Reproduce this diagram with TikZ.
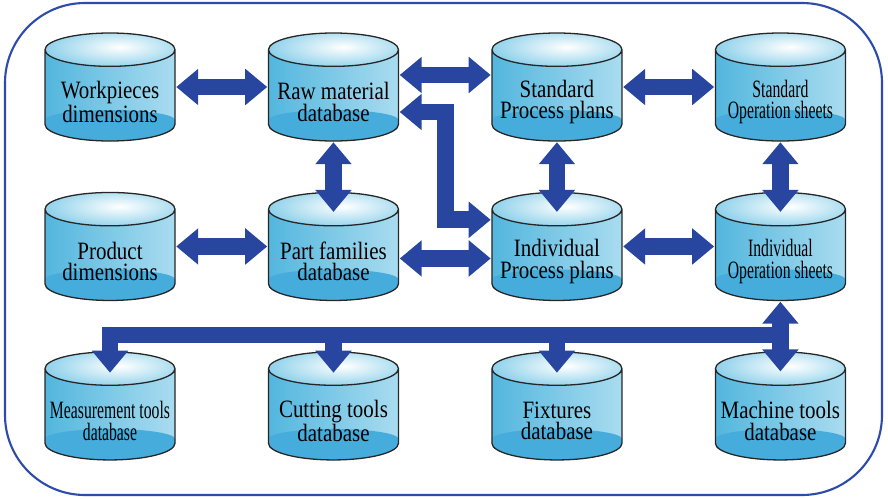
\documentclass[tikz,border=0pt]{standalone}
\usepackage{fontspec}
\setmainfont{Liberation Serif}
\newfontfamily\dbserif[FakeStretch=0.84]{Liberation Serif}
\newfontfamily\dbnarrow[FakeStretch=0.63]{Liberation Serif}
\usetikzlibrary{shapes.geometric, arrows.meta, positioning, calc}

\definecolor{arrowblue}{RGB}{40,70,160}
\definecolor{frameblue}{RGB}{45,75,170}
\definecolor{dbleft}{RGB}{82,182,222}
\definecolor{dbmid}{RGB}{205,236,248}
\definecolor{dbright}{RGB}{170,220,240}
\definecolor{dbtop}{RGB}{140,208,234}
\definecolor{dbpool}{RGB}{70,172,220}
\definecolor{dbpoolmid}{RGB}{168,222,243}

\begin{document}
\begin{tikzpicture}[
  node distance = 1.47cm and 2.73cm,
  dbCyl/.style  = {rectangle, minimum width=3.96cm, minimum height=3.3cm, inner sep=0pt,
                   path picture={
                     %% body
                     \path[left color=dbleft, middle color=dbmid, right color=dbright]
                       ([shift={(0.03,-0.53)}]path picture bounding box.north west)
                       -- ([shift={(0.03,0.53)}]path picture bounding box.south west)
                       arc[start angle=180, end angle=360, x radius=1.95cm, y radius=0.5cm]
                       -- ([shift={(-0.03,-0.53)}]path picture bounding box.north east) -- cycle;
                     %% darker pool at the bottom
                     \path[left color=dbpool, middle color=dbpoolmid, right color=dbpool]
                       ([shift={(0.03,0.66)}]path picture bounding box.south west)
                       arc[start angle=180, end angle=0, x radius=1.95cm, y radius=0.3cm]
                       -- ([shift={(-0.03,0.53)}]path picture bounding box.south east)
                       arc[start angle=0, end angle=-180, x radius=1.95cm, y radius=0.5cm] -- cycle;
                     %% top
                     \begin{scope}
                       \clip ([yshift=-0.53cm]path picture bounding box.north) ellipse [x radius=1.95cm, y radius=0.5cm];
                       \fill[inner color=white, outer color=dbtop]
                         ([shift={(0.3,-0.45)}]path picture bounding box.north) ellipse [x radius=2.3cm, y radius=0.65cm];
                     \end{scope}
                     %% outline
                     \draw[line width=1.1pt, black!85]
                       ([yshift=-0.53cm]path picture bounding box.north) ellipse [x radius=1.95cm, y radius=0.5cm]
                       ([shift={(0.03,-0.53)}]path picture bounding box.north west)
                       -- ([shift={(0.03,0.53)}]path picture bounding box.south west)
                       arc[start angle=180, end angle=360, x radius=1.95cm, y radius=0.5cm]
                       -- ([shift={(-0.03,-0.53)}]path picture bounding box.north east);
                   }},
  dbText/.style = {align=center, font=\dbserif\fontsize{21.3}{18.5}\selectfont, yshift=-0.45cm},
  narrow/.style = {font=\dbnarrow\fontsize{21.3}{18.5}\selectfont},
  arr/.style    = {{Triangle[width=1.05cm, length=0.66cm]}-{Triangle[width=1.05cm, length=0.66cm]},
                   line width=0.5cm, draw=arrowblue},
  busarr/.style = {-{Triangle[width=1.05cm, length=0.66cm]}, line width=0.5cm, draw=arrowblue},
  frame/.style  = {draw=frameblue, line width=1.8pt, rounded corners=2.4cm},
]
\useasboundingbox (0,0) rectangle (26.64,-14.94);

%% Outer frame
\draw[frame] (0.15,-0.09) rectangle (26.46,-14.85);

%% Row 1
\node[dbCyl, label={[dbText]center:{Workpieces\\dimensions}}] (work) at (3.30,-2.61) {};
\node[dbCyl, right=of work, label={[dbText]center:{Raw material\\database}}] (raw) {};
\node[dbCyl, right=of raw, label={[dbText]center:{Standard\\Process plans}}] (stdpp) {};
\node[dbCyl, right=of stdpp, label={[dbText, narrow]center:{Standard\\Operation sheets}}] (stdos) {};

%% Row 2
\node[dbCyl, below=of work, label={[dbText]center:{Product\\dimensions}}] (prod) {};
\node[dbCyl, below=of raw, label={[dbText]center:{Part families\\database}}] (partfam) {};
\node[dbCyl, below=of stdpp, label={[dbText]center:{Individual\\Process plans}}] (indpp) {};
\node[dbCyl, below=of stdos, label={[dbText, narrow]center:{Individual\\Operation sheets}}] (indos) {};

%% Row 3
\node[dbCyl, below=of prod, label={[dbText, narrow]center:{Measurement tools\\database}}] (measure) {};
\node[dbCyl, below=of partfam, label={[dbText]center:{Cutting tools\\database}}] (cutting) {};
\node[dbCyl, below=of indpp, label={[dbText]center:{Fixtures\\database}}] (fixture) {};
\node[dbCyl, below=of indos, label={[dbText]center:{Machine tools\\database}}] (machine) {};

%% Horizontal links
\draw[arr] (work) -- (raw);
\draw[arr] ([yshift=0.36cm]raw.east) -- ([yshift=0.36cm]stdpp.west);
\draw[arr] (stdpp) -- (stdos);
\draw[arr] (prod) -- (partfam);
\draw[arr] ([yshift=-0.36cm]partfam.east) -- ([yshift=-0.36cm]indpp.west);
\draw[arr] (indpp) -- (indos);

%% Raw material to individual process plans
\draw[arr] ([yshift=-0.75cm]raw.east) -- ++(1.38,0) |- ([yshift=0.8cm]indpp.west);

%% Vertical links
\foreach \a/\b in {raw/partfam, stdpp/indpp, stdos/indos, indos/machine}
  \draw[arr] (\a.south) -- ([yshift=-0.62cm]\b.north);

%% Tool database bus
\coordinate (bus) at (0,-10.05);
\draw[busarr] (machine.north |- bus) -| ([yshift=-0.66cm]measure.north);
\foreach \n in {cutting, fixture}
  \draw[busarr] (\n.north |- bus) -- ([yshift=-0.66cm]\n.north);

\end{tikzpicture}
\end{document}
